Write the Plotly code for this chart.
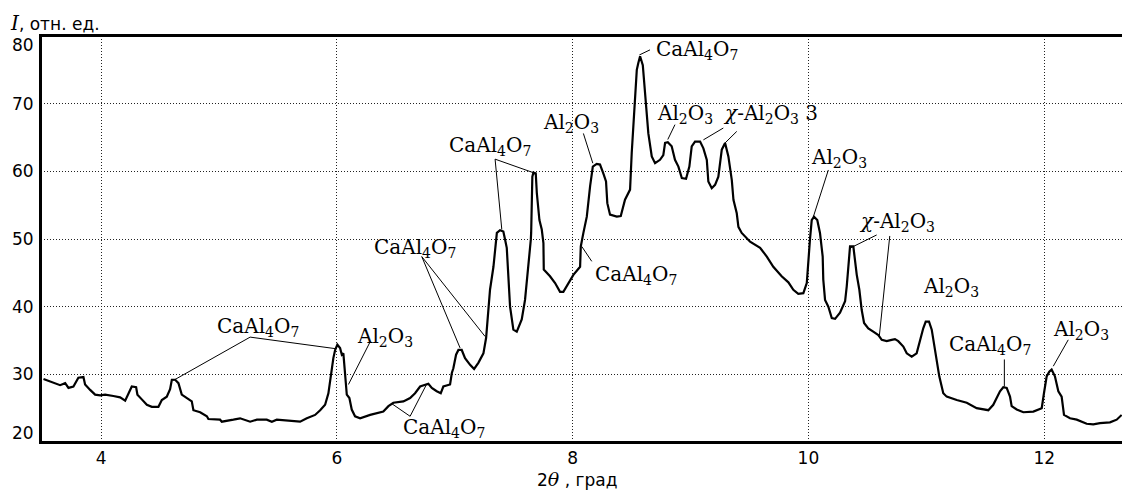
import plotly.graph_objects as go

# 2theta (deg) and intensity (rel. units)
two_theta = [3.511,3.582,3.652,3.695,3.723,3.765,3.807,3.850,3.864,3.907,3.949,3.992,4.034,4.104,4.161,4.204,4.232,4.260,4.297,4.308,4.345,4.388,4.430,4.486,4.515,4.557,4.585,4.600,4.628,4.656,4.684,4.727,4.769,4.783,4.840,4.897,4.910,5.009,5.024,5.122,5.179,5.264,5.321,5.405,5.448,5.490,5.603,5.688,5.745,5.815,5.858,5.900,5.928,5.942,5.957,5.970,5.985,6.004,6.027,6.042,6.055,6.070,6.084,6.106,6.126,6.154,6.197,6.282,
             6.394,6.437,6.479,6.564,6.621,6.663,6.706,6.776,6.805,6.847,6.881,6.903,6.960,6.975,6.988,7.011,7.031,7.059,7.087,7.130,7.164,7.200,7.243,7.266,7.277,7.285,7.299,7.328,7.342,7.357,7.384,7.412,7.427,7.441,7.469,7.497,7.526,7.568,7.596,7.611,7.633,7.645,7.648,7.658,7.667,7.687,7.696,7.718,7.738,7.752,7.755,7.808,7.851,7.893,7.921,7.964,8.006,8.063,8.069,8.091,8.120,8.148,8.171,8.204,8.232,8.260,8.283,8.294,8.317,8.374,8.408,8.444,8.487,8.501,8.515,8.529,8.544,8.557,8.572,8.595,8.606,8.623,8.642,8.671,8.699,8.741,8.769,8.784,8.807,8.840,8.868,8.897,8.926,8.962,8.990,9.010,9.038,9.081,9.109,9.138,9.151,9.180,9.208,9.236,9.265,9.293,9.321,9.350,9.364,9.392,9.406,9.434,9.477,9.505,
             9.590,9.647,9.702,9.773,9.830,9.872,9.914,9.957,9.986,9.999,10.013,10.028,10.047,10.075,10.098,10.121,10.126,10.141,10.169,10.198,10.226,10.268,10.311,10.325,10.338,10.353,10.381,10.395,10.410,10.432,10.452,10.472,10.508,10.550,10.593,10.622,10.664,10.706,10.734,10.762,10.805,10.834,10.876,10.918,10.947,10.974,10.995,11.023,11.046,11.074,11.110,11.144,11.173,11.258,11.343,11.427,11.526,11.568,11.597,11.625,11.653,11.682,11.710,11.724,11.767,11.823,11.908,11.979,11.998,12.021,12.043,12.063,12.091,12.120,12.148,12.168,12.219,12.276,12.360,12.416,12.473,12.558,12.615,12.657]
intensity = [29.3,28.8,28.4,28.7,28.0,28.2,29.5,29.6,28.5,27.7,27.0,26.9,27.0,26.8,26.6,26.1,27.2,28.2,28.1,27.0,26.3,25.5,25.2,25.2,26.2,26.7,27.8,29.2,29.2,28.7,27.0,26.5,26.0,24.7,24.4,23.8,23.4,23.3,23.0,23.3,23.5,23.0,23.3,23.3,23.0,23.3,23.1,23.0,23.5,24.0,24.7,25.5,27.2,29.0,31.2,32.4,33.6,34.4,33.9,32.9,33.1,30.2,27.0,26.5,24.8,23.8,23.5,24.0,
             24.5,25.3,25.8,26.0,26.5,27.2,28.2,28.6,28.0,27.5,27.2,28.2,28.5,30.2,30.9,32.9,33.6,33.6,32.4,31.4,30.8,31.7,33.1,35.4,37.6,40.0,42.5,45.9,48.9,50.9,51.3,51.1,49.9,48.7,40.0,36.6,36.3,38.1,41.0,43.5,46.9,49.9,50.9,59.2,59.8,59.7,56.8,52.8,51.4,49.4,45.5,44.5,43.5,42.2,42.2,43.5,44.7,45.9,48.9,50.9,53.3,57.8,60.7,61.1,61.0,59.7,58.5,55.3,53.6,53.3,53.4,55.8,57.3,62.7,66.6,71.6,75.0,76.0,77.0,75.7,73.0,70.1,65.6,62.2,61.2,61.7,62.4,64.2,64.3,63.7,61.7,60.7,59.0,58.9,60.7,63.7,64.4,64.4,63.4,61.7,58.5,57.5,58.0,59.2,63.2,64.2,62.2,58.7,55.8,53.8,51.8,50.9,50.1,49.6,
             48.7,47.4,45.9,44.5,43.6,42.5,41.9,42.0,43.5,46.9,49.9,52.8,53.3,52.8,50.9,47.4,44.0,41.0,40.0,38.3,38.2,39.1,40.8,43.0,46.4,48.9,48.9,46.9,44.7,42.5,39.5,37.6,36.8,36.3,35.8,35.1,34.9,35.1,35.2,34.9,34.1,33.1,32.6,33.1,35.1,36.8,37.8,37.8,36.6,33.6,29.7,27.2,26.7,26.2,25.8,25.0,24.7,25.5,26.5,27.5,28.1,28.0,26.7,25.3,24.8,24.4,24.5,25.0,27.2,29.7,30.4,30.7,29.7,27.5,26.7,24.0,23.5,23.3,22.7,22.6,22.8,22.9,23.3,24.0]

y_tick_vals = [20, 30, 40, 50, 60, 70, 80]
y_tick_text = ["20", "30", "40", "50", "60", "70", "80"]

CA = "CaAl<sub>4</sub>O<sub>7</sub>"
AL = "Al<sub>2</sub>O<sub>3</sub>"
CHI = "<i>χ</i>-Al<sub>2</sub>O<sub>3</sub>"

label_text = [CA, AL, CA, CA, CA, AL, CA, CA, AL, CHI + " 3", AL, CHI, AL, CA, AL]
label_x = [5.332, 6.409, 6.909, 6.663, 7.299, 7.986, 8.538, 9.055, 8.953, 9.674, 10.26, 10.751, 11.209, 11.540, 12.312]
label_y = [37.05, 35.55, 22.1, 48.7, 63.8, 67.2, 44.7, 77.95, 68.4, 68.4, 62.0, 52.5, 42.9, 34.4, 36.6]

# leader lines: x0, y0, x1, y1
leaders = [
    (5.264, 35.5, 4.613, 29.1), (5.264, 35.5, 5.985, 33.8),
    (6.282, 34.8, 6.098, 28.5),
    (6.621, 23.8, 6.466, 25.66), (6.621, 23.8, 6.763, 28.6),
    (6.720, 47.4, 7.045, 33.9), (6.720, 47.4, 7.257, 35.6),
    (7.342, 61.8, 7.399, 51.4), (7.342, 61.8, 7.667, 59.8),
    (8.091, 65.6, 8.171, 61.2),
    (8.162, 46.7, 8.077, 48.9),
    (8.656, 77.95, 8.566, 77.2),
    (8.868, 66.9, 8.807, 64.7),
    (9.278, 66.4, 9.109, 64.65), (9.392, 65.9, 9.293, 64.2),
    (10.169, 60.2, 10.042, 53.3),
    (10.579, 50.6, 10.353, 48.65), (10.690, 50.45, 10.601, 35.6),
    (11.662, 32.2, 11.662, 28.2),
    (12.204, 35.1, 12.077, 31.2),
]

fig = go.Figure()
fig.add_trace(go.Scatter(x=two_theta, y=intensity, mode="lines",
                         line=dict(color="black", width=2.2), hoverinfo="skip"))

annotations = []
for t, x, y in zip(label_text, label_x, label_y):
    annotations.append(dict(x=x, y=y, xref="x", yref="y", text=t, showarrow=False,
                            xanchor="center", yanchor="middle",
                            font=dict(family="DejaVu Serif", size=20, color="black")))

# y tick labels (end labels sit inside the axis span, as in the reference)
for v, t in zip(y_tick_vals, y_tick_text):
    if v == max(y_tick_vals):
        anchor, ys = "top", 3
    elif v == min(y_tick_vals):
        anchor, ys = "bottom", -3
    else:
        anchor, ys = "middle", 0
    annotations.append(dict(x=0, y=v, xref="paper", yref="y", text=t, showarrow=False,
                            xanchor="right", yanchor=anchor, xshift=-5, yshift=ys,
                            font=dict(family="DejaVu Sans", size=17, color="black")))

annotations.append(dict(x=(8 - 41) / 1081, y=1, xref="paper", yref="paper", yshift=13,
                        xanchor="left", yanchor="middle", showarrow=False,
                        text="<span style='font-family:DejaVu Serif;font-size:20px'><i>I</i></span>, отн. ед.",
                        font=dict(family="DejaVu Sans", size=17, color="black")))
annotations.append(dict(x=0.496, y=0, xref="paper", yref="paper", yshift=-37,
                        xanchor="center", yanchor="middle", showarrow=False,
                        text="2<span style='font-family:DejaVu Serif;font-size:19px'><i>θ</i></span> , град",
                        font=dict(family="DejaVu Sans", size=17, color="black")))

shapes = [dict(type="line", xref="x", yref="y", x0=a, y0=b, x1=c, y1=d,
               line=dict(color="black", width=1)) for a, b, c, d in leaders]
# plot frame: left, bottom, top
for fx0, fy0, fx1, fy1 in [(0, 0, 0, 1), (0, 0, 1, 0), (0, 1, 1, 1)]:
    shapes.append(dict(type="line", xref="paper", yref="paper", x0=fx0, y0=fy0, x1=fx1, y1=fy1,
                       line=dict(color="black", width=2), layer="above"))

fig.update_layout(
    width=1122, height=491,
    margin=dict(l=41, r=0, t=36, b=49, autoexpand=False),
    paper_bgcolor="white", plot_bgcolor="white",
    showlegend=False,
    annotations=annotations, shapes=shapes,
    font=dict(family="DejaVu Sans", size=17, color="black"),
)
fig.update_xaxes(range=[3.49, 12.66], tick0=0, dtick=2, showgrid=True,
                 gridcolor="#222", gridwidth=1, griddash="1px,2px",
                 showline=True, linecolor="black", linewidth=2, mirror=True,
                 ticks="", zeroline=False, tickfont=dict(size=17), automargin=False)
fig.update_yaxes(range=[20, 80], tickvals=y_tick_vals, showticklabels=False, showgrid=True,
                 gridcolor="#222", gridwidth=1, griddash="1px,2px",
                 showline=True, linecolor="black", linewidth=2, mirror=False,
                 ticks="", zeroline=False, automargin=False)

fig.write_html("out.html", config={"displayModeBar": False},
               post_script="document.body.style.margin='0';document.body.style.overflow='hidden';")
